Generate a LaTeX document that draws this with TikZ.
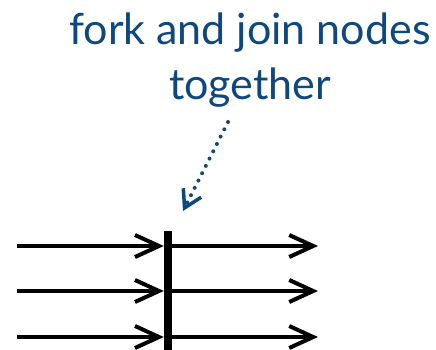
\documentclass[tikz,border=0pt]{standalone}
\usepackage{fontspec}
\setmainfont{Lato}
\usetikzlibrary{arrows.meta,positioning}
\definecolor{noteblue}{RGB}{14,72,128}
\begin{document}
\begin{tikzpicture}[x=1pt,y=-1pt,>={Straight Barb[length=24pt,width=22pt]},
  flow/.style={->,line width=4pt},
  fork bar/.style={fill=black,inner sep=0pt,minimum width=8pt,minimum height=119pt},
  note/.style={text=noteblue,align=center,font=\fontsize{43}{55}\selectfont},
  hint/.style={-{Straight Barb[length=17pt,width=20pt,line width=3.5pt]},
    noteblue,line width=4pt,line cap=round,dash pattern=on 0pt off 8.2pt}]

  \useasboundingbox (0,0) rectangle (436,350);

  % the base anchor sits on the last line
  \node[note,anchor=base] (note) at (250,100) {fork and join nodes\\together};
  \coordinate (hint start) at (228,122);
  \coordinate (hint end) at (183,211);

  \node[fork bar] (bar) at (168,290.5) {};
  \coordinate (in1) at (17,246);
  \coordinate (in2) at (17,291);
  \coordinate (in3) at (17,337);
  \coordinate (out1) at (318,246);
  \coordinate (out2) at (318,291);
  \coordinate (out3) at (318,337);

  \draw[hint] (hint start) -- (hint end);
  \foreach \i in {1,2,3} {
    \draw[flow] (in\i) -- (in\i -| bar.west);
    \draw[flow] (bar.east |- out\i) -- (out\i);
  }
\end{tikzpicture}
\end{document}
